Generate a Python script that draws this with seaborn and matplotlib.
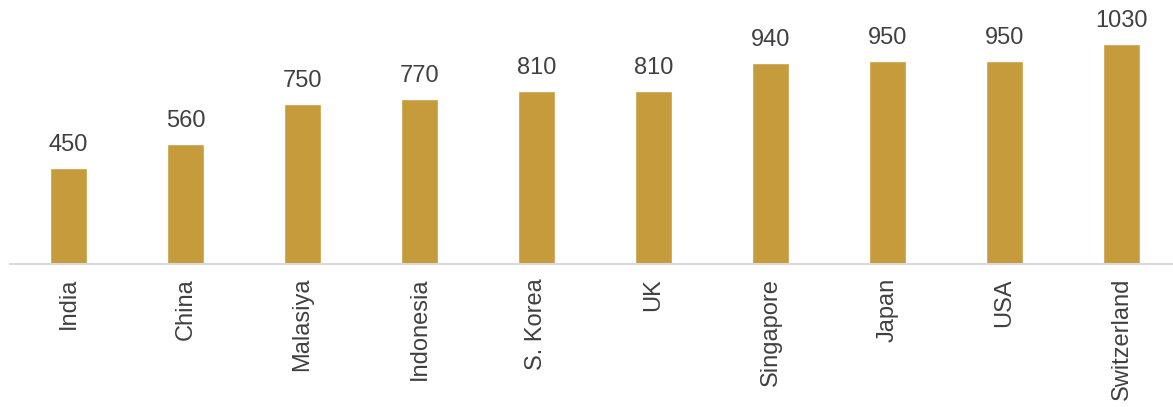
import matplotlib
matplotlib.use("Agg")
import matplotlib.pyplot as plt
import seaborn as sns
import pandas as pd

countries = ["India", "China", "Malasiya", "Indonesia", "S. Korea", "UK",
             "Singapore", "Japan", "USA", "Switzerland"]
values = [450, 560, 750, 770, 810, 810, 940, 950, 950, 1030]

GOLD = "#C69B3C"

sns.set_theme(style="white")
plt.rcParams["font.family"] = ["Liberation Sans", "DejaVu Sans"]

df = pd.DataFrame({"country": countries, "value": values})

fig = plt.figure(figsize=(11.73, 4.07), dpi=100)
ax = fig.add_axes([10 / 1173, 1 - 264 / 407, 1170 / 1173, 264 / 407])

sns.barplot(data=df, x="country", y="value", color=GOLD, width=0.315,
            saturation=1, ax=ax)

ax.set_ylim(0, 1234)
ax.set_xlim(-0.5, len(countries) - 0.5)

for i, v in enumerate(values):
    ax.annotate(str(v), (i, v), xytext=(0, 8.5), textcoords="offset points",
                ha="center", va="bottom", fontsize=17, color="#404040")

for s in ["top", "right", "left"]:
    ax.spines[s].set_visible(False)
ax.spines["bottom"].set_color("#D9D9D9")
ax.spines["bottom"].set_linewidth(1.5)

ax.set_yticks([])
ax.set_xlabel("")
ax.set_ylabel("")
ax.tick_params(axis="x", length=0, pad=10, labelsize=17, labelcolor="#404040",
               labelrotation=90)

fig.savefig("out.png", dpi=100)
